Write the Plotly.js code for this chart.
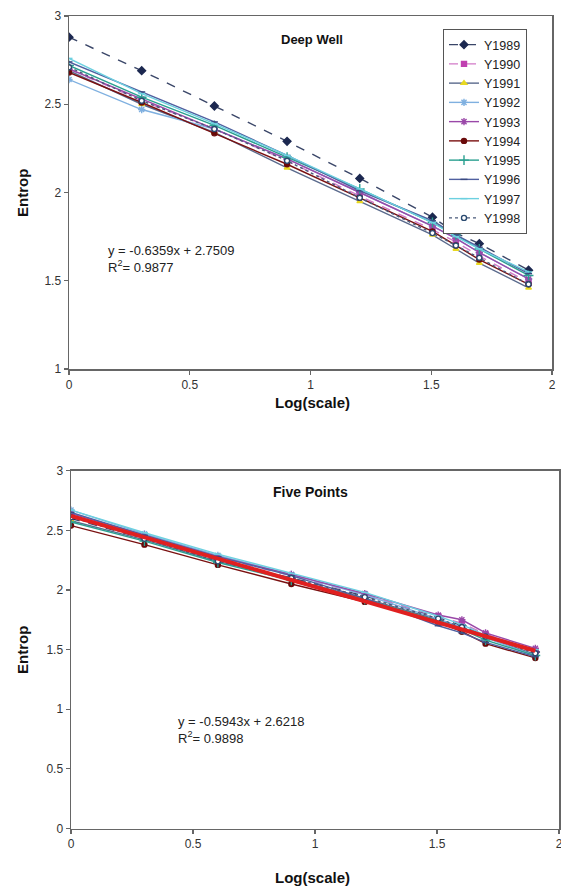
<!DOCTYPE html>
<html>
<head>
<meta charset="utf-8">
<script src="https://cdn.plot.ly/plotly-3.0.1.min.js"></script>
<style>html,body{margin:0;padding:0;background:#fff;}#chart{width:561px;height:889px;}</style>
</head>
<body>
<div id="chart"></div>
<script>
// Log(scale) positions
const xLog = [0, 0.301, 0.602, 0.903, 1.204, 1.505, 1.602, 1.699, 1.903];
const years = ["Y1989","Y1990","Y1991","Y1992","Y1993","Y1994","Y1995","Y1996","Y1997","Y1998"];

// Deep Well entropy values
const dw1989 = [2.88, 2.69, 2.49, 2.29, 2.08, 1.86, 1.77, 1.71, 1.56];
const dw1990 = [2.70, 2.52, 2.36, 2.18, 1.98, 1.79, 1.72, 1.64, 1.49];
const dw1991 = [2.69, 2.50, 2.34, 2.14, 1.95, 1.76, 1.68, 1.60, 1.46];
const dw1992 = [2.64, 2.47, 2.36, 2.19, 2.00, 1.81, 1.74, 1.66, 1.51];
const dw1993 = [2.70, 2.53, 2.36, 2.19, 2.00, 1.81, 1.74, 1.66, 1.51];
const dw1994 = [2.68, 2.51, 2.335, 2.16, 1.97, 1.78, 1.70, 1.62, 1.48];
const dw1995 = [2.72, 2.54, 2.38, 2.20, 2.02, 1.83, 1.76, 1.68, 1.53];
const dw1996 = [2.74, 2.57, 2.40, 2.21, 2.01, 1.84, 1.76, 1.69, 1.54];
const dw1997 = [2.76, 2.56, 2.39, 2.21, 2.02, 1.83, 1.75, 1.68, 1.55];
const dw1998 = [2.71, 2.52, 2.36, 2.18, 1.97, 1.77, 1.70, 1.63, 1.48];

// Five Points entropy values
const fp1989 = [2.60, 2.43, 2.25, 2.10, 1.95, 1.77, 1.70, 1.62, 1.48];
const fp1990 = [2.62, 2.45, 2.27, 2.12, 1.96, 1.78, 1.72, 1.63, 1.49];
const fp1991 = [2.58, 2.42, 2.24, 2.09, 1.93, 1.75, 1.68, 1.60, 1.46];
const fp1992 = [2.67, 2.47, 2.29, 2.13, 1.96, 1.76, 1.69, 1.60, 1.45];
const fp1993 = [2.64, 2.46, 2.28, 2.13, 1.97, 1.79, 1.75, 1.64, 1.51];
const fp1994 = [2.54, 2.38, 2.21, 2.05, 1.90, 1.73, 1.65, 1.55, 1.43];
const fp1995 = [2.57, 2.41, 2.23, 2.08, 1.92, 1.74, 1.67, 1.58, 1.45];
const fp1996 = [2.65, 2.46, 2.28, 2.12, 1.93, 1.70, 1.64, 1.56, 1.44];
const fp1997 = [2.67, 2.48, 2.30, 2.14, 1.98, 1.78, 1.71, 1.62, 1.50];
const fp1998 = [2.61, 2.43, 2.24, 2.10, 1.94, 1.76, 1.69, 1.61, 1.47];

// Five Points linear trend
const fpTrendX = [0, 1.903];
const fpTrendY = [2.62, 1.49];

const deepWell = [dw1989, dw1990, dw1991, dw1992, dw1993, dw1994, dw1995, dw1996, dw1997, dw1998];
const fivePoints = [fp1989, fp1990, fp1991, fp1992, fp1993, fp1994, fp1995, fp1996, fp1997, fp1998];

const styles = [
  {lc:"#3a4668", dash:"dash", sym:"diamond", mc:"#1c2850", ml:"#1c2850", ms:6},
  {lc:"#d27ac8", dash:"dash", sym:"square", mc:"#c040b0", ml:"#c040b0", ms:5},
  {lc:"#5a6a8c", dash:"solid", sym:"triangle-up", mc:"#e8d820", ml:"#e8d820", ms:5},
  {lc:"#7fb0e0", dash:"solid", sym:"asterisk-open", mc:"#7fb0e0", ml:"#7fb0e0", ms:6},
  {lc:"#9a48a8", dash:"solid", sym:"asterisk-open", mc:"#9a48a8", ml:"#9a48a8", ms:6},
  {lc:"#7a1010", dash:"solid", sym:"circle", mc:"#6a0a0a", ml:"#6a0a0a", ms:5},
  {lc:"#2aa090", dash:"solid", sym:"cross-thin-open", mc:"#2aa090", ml:"#2aa090", ms:7},
  {lc:"#5060a0", dash:"solid", sym:"line-ew-open", mc:"#3a4a80", ml:"#3a4a80", ms:5},
  {lc:"#6cd0e0", dash:"solid", sym:"line-ew-open", mc:"#6cd0e0", ml:"#6cd0e0", ms:5},
  {lc:"#4a5a7a", dash:"dot", sym:"circle", mc:"#ffffff", ml:"#2a4a70", ms:5}
];

const traces = [];
deepWell.forEach((ys, i) => {
  const s = styles[i];
  traces.push({
    x: xLog, y: ys, name: years[i], type: "scatter", mode: "lines+markers",
    xaxis: "x", yaxis: "y", showlegend: true,
    line: {color: s.lc, width: 1.4, dash: s.dash},
    marker: {symbol: s.sym, size: s.ms, color: s.mc, line: {color: s.ml, width: 1.4}}
  });
});
fivePoints.forEach((ys, i) => {
  const s = styles[i];
  traces.push({
    x: xLog, y: ys, name: years[i], type: "scatter", mode: "lines+markers",
    xaxis: "x2", yaxis: "y2", showlegend: false,
    line: {color: s.lc, width: 1.4, dash: s.dash},
    marker: {symbol: s.sym, size: s.ms, color: s.mc, line: {color: s.ml, width: 1.4}}
  });
});
traces.push({
  x: fpTrendX, y: fpTrendY, type: "scatter", mode: "lines", name: "trend",
  xaxis: "x2", yaxis: "y2", showlegend: false,
  line: {color: "#e02020", width: 4}
});

const W = 561, H = 889;
const font = "Liberation Sans, Arial, sans-serif";
const axisCommon = {
  showgrid: false, zeroline: false, showline: true, mirror: true,
  linecolor: "#666", linewidth: 1.5, ticks: "outside", ticklen: 4,
  tickcolor: "#666", tickwidth: 1.2, ticklabeloverflow: "allow",
  tickfont: {family: font, size: 12, color: "#333"}
};

const layout = {
  width: W, height: H,
  margin: {l: 0, r: 0, t: 0, b: 0},
  paper_bgcolor: "#fff", plot_bgcolor: "#fff",
  showlegend: true,
  xaxis: Object.assign({}, axisCommon, {
    domain: [69/W, 552/W], range: [0, 2], tickvals: [0, 0.5, 1, 1.5, 2],
    ticktext: ["0","0.5","1","1.5","2"], anchor: "y"
  }),
  yaxis: Object.assign({}, axisCommon, {
    domain: [(H-369)/H, (H-16)/H], range: [1, 3], tickvals: [1, 1.5, 2, 2.5, 3],
    ticktext: ["1","1.5","2","2.5","3"], anchor: "x"
  }),
  xaxis2: Object.assign({}, axisCommon, {
    domain: [71/W, 559/W], range: [0, 2], tickvals: [0, 0.5, 1, 1.5, 2],
    ticktext: ["0","0.5","1","1.5","2"], anchor: "y2"
  }),
  yaxis2: Object.assign({}, axisCommon, {
    domain: [(H-828.5)/H, (H-470.7)/H], range: [0, 3], tickvals: [0, 0.5, 1, 1.5, 2, 2.5, 3],
    ticktext: ["0","0.5","1","1.5","2","2.5","3"], anchor: "x2"
  }),
  legend: {
    x: 443/W, y: (H-29)/H, xanchor: "left", yanchor: "top",
    bgcolor: "#fff", bordercolor: "#555", borderwidth: 1,
    font: {family: font, size: 12.5, color: "#222"},
    tracegroupgap: 0, itemwidth: 30
  },
  annotations: [
    {xref: "paper", yref: "paper", x: 312/W, y: (H-39)/H, text: "<b>Deep Well</b>", showarrow: false,
     font: {family: font, size: 13, color: "#111"}, xanchor: "center", yanchor: "middle"},
    {xref: "paper", yref: "paper", x: 310/W, y: (H-492)/H, text: "<b>Five Points</b>", showarrow: false,
     font: {family: font, size: 14, color: "#111"}, xanchor: "center", yanchor: "middle"},
    {xref: "paper", yref: "paper", x: 106/W, y: (H-259)/H, align: "left",
     text: "y = -0.6359x + 2.7509<br>R<sup>2</sup>= 0.9877", showarrow: false,
     font: {family: font, size: 13, color: "#222"}, xanchor: "left", yanchor: "middle"},
    {xref: "paper", yref: "paper", x: 176/W, y: (H-730)/H, align: "left",
     text: "y = -0.5943x + 2.6218<br>R<sup>2</sup>= 0.9898", showarrow: false,
     font: {family: font, size: 13, color: "#222"}, xanchor: "left", yanchor: "middle"},
    {xref: "paper", yref: "paper", x: 22/W, y: (H-193)/H, text: "<b>Entrop</b>", textangle: -90, showarrow: false,
     font: {family: font, size: 15, color: "#111"}, xanchor: "center", yanchor: "middle"},
    {xref: "paper", yref: "paper", x: 22/W, y: (H-650)/H, text: "<b>Entrop</b>", textangle: -90, showarrow: false,
     font: {family: font, size: 15, color: "#111"}, xanchor: "center", yanchor: "middle"},
    {xref: "paper", yref: "paper", x: 312/W, y: (H-403)/H, text: "<b>Log(scale)</b>", showarrow: false,
     font: {family: font, size: 15, color: "#111"}, xanchor: "center", yanchor: "middle"},
    {xref: "paper", yref: "paper", x: 312/W, y: (H-877)/H, text: "<b>Log(scale)</b>", showarrow: false,
     font: {family: font, size: 15, color: "#111"}, xanchor: "center", yanchor: "middle"}
  ]
};

Plotly.newPlot("chart", traces, layout, {displayModeBar: false, staticPlot: true});
</script>
</body>
</html>
